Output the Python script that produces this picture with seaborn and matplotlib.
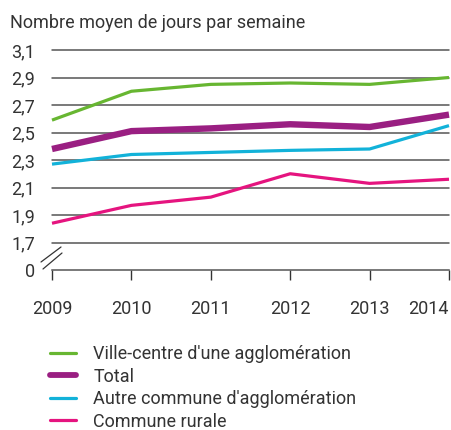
import matplotlib
matplotlib.use("Agg")
import matplotlib.pyplot as plt
import seaborn as sns
import pandas as pd
from matplotlib.lines import Line2D

years = [2009, 2010, 2011, 2012, 2013, 2014]
ville_centre = [2.59, 2.80, 2.85, 2.86, 2.85, 2.90]
total = [2.38, 2.51, 2.53, 2.56, 2.54, 2.63]
autre_commune = [2.27, 2.34, 2.355, 2.37, 2.38, 2.55]
commune_rurale = [1.84, 1.97, 2.03, 2.20, 2.13, 2.16]

series_names = ["Ville-centre d'une agglomération", "Total",
                "Autre commune d'agglomération", "Commune rurale"]
series_values = [ville_centre, total, autre_commune, commune_rurale]
ytick_values = [1.5, 1.7, 1.9, 2.1, 2.3, 2.5, 2.7, 2.9, 3.1]
ytick_labels = ["0", "1,7", "1,9", "2,1", "2,3", "2,5", "2,7", "2,9", "3,1"]
title = "Nombre moyen de jours par semaine"

colors = {series_names[0]: "#67b631", series_names[1]: "#9a1f82",
          series_names[2]: "#12b2d9", series_names[3]: "#e5147f"}
widths = {series_names[0]: 2.3, series_names[1]: 4.6,
          series_names[2]: 2.3, series_names[3]: 2.3}

rows = []
for name, vals in zip(series_names, series_values):
    for y, v in zip(years, vals):
        rows.append({"year": y, "value": v, "serie": name})
df = pd.DataFrame(rows)

sns.set_theme(style="white")
plt.rcParams['font.family'] = ['Roboto', 'DejaVu Sans']
text_color = "#333333"
fs = 13

fig = plt.figure(figsize=(4.52, 4.30), dpi=100)
ax = fig.add_axes([52/452, 1-270/430, (449-52)/452, 220/430])

sns.lineplot(data=df, x="year", y="value", hue="serie", size="serie",
             palette=colors, sizes=widths, ax=ax, legend=False)
for line in ax.lines:
    line.set_clip_on(False)
    line.set_solid_capstyle("butt")
    line.set_zorder(3)

ax.set_xlim(2009, 2014)
ax.set_ylim(1.5, 3.1)
for v in ytick_values[1:]:
    ax.axhline(v, color="#555555", lw=1.1, zorder=1, clip_on=False)

ax.set_yticks(ytick_values)
ax.set_yticklabels(ytick_labels)
ax.set_xticks(years)
ax.set_xticklabels([str(y) for y in years])
ax.get_xticklabels()[-1].set_ha("right")

ax.tick_params(axis="y", length=0, pad=12, labelsize=fs, labelcolor=text_color)
ax.tick_params(axis="x", length=7.5, width=1, color="#333333", direction="out",
               pad=14, labelsize=fs, labelcolor=text_color, bottom=True)
ax.set_xlabel("")
ax.set_ylabel("")
for s in ["top", "right", "left"]:
    ax.spines[s].set_visible(False)
ax.spines["bottom"].set_color("#555555")
ax.spines["bottom"].set_linewidth(1.1)

# axis break marks
fig.add_artist(Line2D([41/452, 61/452], [1-262/430, 1-247/430], color="#333333", lw=0.9))
fig.add_artist(Line2D([43/452, 62/452], [1-269/430, 1-253/430], color="#333333", lw=0.9))

fig.text(10/452, 1-28/430, title, fontsize=fs, color=text_color, va="baseline", ha="left")

handles = [Line2D([0], [0], color=colors[n], lw=widths[n] if n != "Total" else 4.2,
                  solid_capstyle="round") for n in series_names]
leg = fig.legend(handles, series_names, loc="upper left",
                 bbox_to_anchor=(50/452, 1-345/430), frameon=False,
                 fontsize=fs, handlelength=1.45, handletextpad=0.95,
                 labelspacing=0.25, borderaxespad=0, borderpad=0)
for t in leg.get_texts():
    t.set_color(text_color)

fig.savefig("out.png", dpi=100)
